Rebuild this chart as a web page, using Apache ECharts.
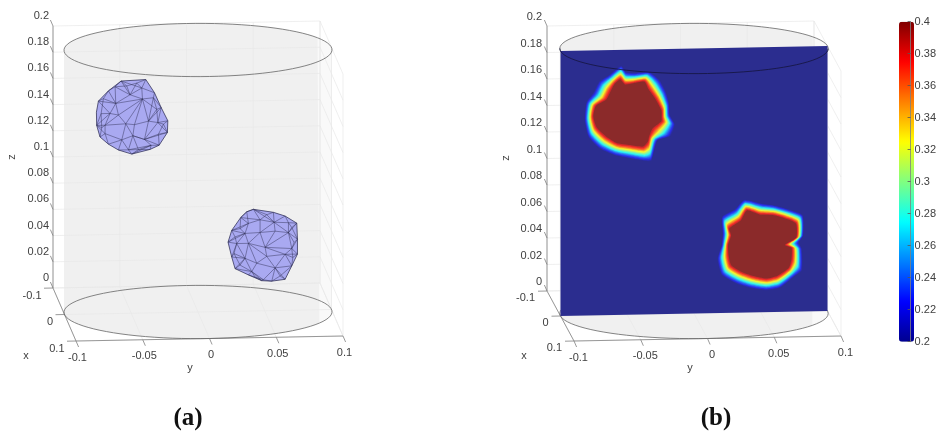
<!DOCTYPE html>
<html><head><meta charset="utf-8">
<style>html,body{margin:0;padding:0;background:#fff}#c{width:939px;height:432px}</style>
<script src="https://cdn.jsdelivr.net/npm/echarts@6/dist/echarts.min.js"></script>
</head><body><div id="c"></div>
<script>
// ---------- tick values ----------
const zTicks = [0,0.02,0.04,0.06,0.08,0.1,0.12,0.14,0.16,0.18,0.2];
const yTicks = [-0.1,-0.05,0,0.05,0.1];
const xTicks = [-0.1,0,0.1];
const colorTicks = [0.2,0.22,0.24,0.26,0.28,0.3,0.32,0.34,0.36,0.38,0.4];
const cylinderRadius = 0.1;
const planeCorners = [[-0.1,0],[0.1,0],[0.1,0.2],[-0.1,0.2]];

// ---------- panel (a): bubble surface meshes, [y, z] in 1e-3 units on the view plane ----------
const meshAVerts = [[-57.6,177.4],[-39.1,178.2],[-32.6,168],[-27.6,156.6],[-22.6,146.4],[-22.9,137.5],[-29.1,127.9],[-35.9,124.8],[-49.6,121.5],[-59.6,124.8],[-67.1,129.4],[-73.4,135],[-75.9,143.9],[-74.6,162.4],[-67.1,170.1],
 [-42.1,171.8],[-41.6,163.4],[-33.4,164.2],[-50.9,166.8],[-61.6,160.4],[-54.1,144.7],[-47.6,143.9],[-37.1,146.4],[-30.1,145.2],[-59.6,151.5],[-48.8,135.5],[-40.1,132.5],[-35.1,127.9],[-69.6,137.5],[-52.1,124.8],[-62.1,173.1],[-57.1,132.5],[-65.9,152.8],[-69.6,143.9],
 [-70.85,164.2],[-72.6,152.8],[-72.1,142.1],[-53.4,173.6],[-45.9,175.6],[-25.9,143.9],[-29.6,136.3],[-44.6,124.8],[-30.9,155.3],[-76.1,154]];
const meshAOutline = [0,1,2,3,4,5,6,7,8,9,10,11,12,43,13,14];
const meshAEdges = [[0,15],[1,15],[15,2],[15,16],[16,17],[17,2],[17,3],[16,18],[18,15],[18,0],[18,30],[30,0],[30,14],[30,19],[14,19],[13,19],[19,18],[19,16],[19,24],[24,16],[24,20],[20,16],[16,21],[21,20],[21,22],[22,16],[22,17],[22,3],[22,23],[23,3],[23,4],[23,5],[26,23],[22,26],[26,5],[26,6],[26,27],[27,7],[27,6],[26,25],[25,21],[25,20],[25,31],[31,20],[31,28],[28,33],[33,20],[33,24],[33,32],[32,24],[32,19],[32,13],[32,12],[33,12],[28,12],[28,11],[28,10],[31,10],[31,9],[31,29],[29,9],[29,8],[29,25],[25,26],[29,27],[8,27],
 [14,34],[34,13],[34,19],[34,35],[35,32],[35,12],[35,36],[36,33],[36,12],[36,11],[30,37],[37,0],[37,18],[37,38],[38,15],[38,1],[38,18],[23,39],[39,4],[39,5],[39,40],[40,5],[40,26],[40,6],[41,8],[41,7],[41,27],[41,25],[41,29],[42,3],[42,17],[42,22],[42,23],[42,16]];
const meshBVerts = [[41.5,77.6],[56.5,75],[65.25,72],[74,66.4],[74.5,54.2],[74.5,42.8],[70.25,33.9],[65.25,23.7],[55.25,22.5],[47.75,23],[37.75,27.6],[27.75,32.6],[25.25,41.5],[22.5,52.9],[25.25,61.8],[32,71.5],
 [57,67.4],[46.5,69.5],[37.75,66.9],[35.25,59.3],[46.5,59.8],[57.75,60.6],[67.75,59.3],[50.25,48.4],[70.25,47.1],[51.5,41.5],[65.25,42.8],[37.75,51.7],[29,51.7],[35.25,40.3],[44,36.4],[57.75,32.6],[49,23.7],[40.25,30.1],[67.75,66.9],
 [27.75,56.8],[31.5,63.1],[51.5,73.3],[70.25,63.1],[72,51.7],[71,40.3],[61.5,26.3],[42.75,25.8],[31.5,35.2],[27,44.1],[36.5,75.8]];
const meshBOutline = [0,1,2,3,4,5,6,7,8,9,10,11,12,13,14,15,45];
const meshBEdges = [[0,17],[0,16],[1,16],[2,16],[2,34],[3,34],[16,34],[34,22],[22,3],[22,4],[16,22],[16,21],[21,22],[21,20],[20,16],[20,17],[17,16],[17,18],[18,15],[15,17],[18,14],[18,19],[19,14],[19,13],[19,28],[28,13],[28,12],[19,20],[19,27],[27,20],[20,23],[23,21],[23,22],[23,24],[22,24],[24,4],[24,5],[24,26],[26,5],[26,6],[26,23],[23,25],[25,26],[25,31],[31,26],[31,6],[31,7],[31,8],[31,32],[32,8],[32,9],[32,33],[33,9],[33,10],[33,30],[30,25],[30,31],[30,29],[29,27],[29,28],[29,12],[29,11],[29,33],[33,11],[27,23],[27,25],[27,30],[28,27],
 [35,13],[35,14],[35,28],[35,19],[36,14],[36,15],[36,18],[36,19],[37,0],[37,1],[37,16],[37,17],[38,3],[38,34],[38,22],[38,4],[39,4],[39,22],[39,24],[40,5],[40,24],[40,26],[40,6],[41,7],[41,8],[41,31],[41,6],[42,9],[42,10],[42,32],[42,33],[43,11],[43,29],[43,33],[44,12],[44,28],[44,29],[44,43],[45,0],[45,15],[45,18]];

// ---------- panel (b): field contours of each bubble, [y, z] in 1e-3 units ----------
const bubble1High = [[-55.2,179.3],[-51.5,175.3],[-45.3,175.8],[-36.5,176.8],[-32.8,171],[-27.8,163.5],[-23.6,154.7],[-23.3,148.4],[-22.9,145.1],[-29.1,139.1],[-32.8,133.3],[-34.1,128.2],[-37.8,125],[-47.7,126.5],[-57.7,128.2],[-66.4,133.3],[-73.9,140.8],[-76.4,149.6],[-74.6,158.4],[-67.2,163.5],[-63.9,169.8],[-60.2,175.3]];
const bubble1Low = [[-54.7,186.4],[-51,181.8],[-44,181.1],[-34.1,181.8],[-27.3,176],[-22.4,167.2],[-19.6,158.4],[-18.9,149.6],[-15.9,143.3],[-19.9,135],[-28.3,131.5],[-32.3,118.2],[-36.5,117.4],[-47.7,119.4],[-59,121.9],[-69.7,127],[-78.1,135.8],[-80.9,147.6],[-79.6,160.2],[-73.9,167.2],[-69.7,175.3],[-62.7,180.3]];
const bubble2High = [[39.3,78.3],[49.3,75.1],[59.2,74.3],[67.9,71.8],[77.1,67.5],[77.4,56.2],[69.7,50.7],[74.2,48.1],[74.2,38.6],[71.7,32.3],[62.9,26],[54.2,24],[44.3,26],[34.3,29.8],[26.8,34.8],[24.8,42.3],[24.8,51.2],[26.8,58.7],[25.6,65],[34.3,70.8]];
const bubble2Low = [[38,83.9],[50.5,80.8],[60.5,79.3],[70.4,76.3],[80.6,71.8],[81.1,57.4],[77.1,51.7],[79.6,47.4],[79.6,32.3],[74.2,27.3],[64.2,19.7],[54.2,17.9],[43,19.7],[33.1,23],[21.9,29.8],[18.9,41.1],[21.4,51.2],[22.4,60],[21.9,71.3],[31.3,76.8]];
const contourLevels = [0.205,0.215,0.225,0.235,0.245,0.255,0.265,0.275,0.285,0.295,0.305,0.315,0.325,0.335,0.345,0.355,0.365,0.375,0.385,0.4];
const levelLow = 0.235, levelHigh = 0.37;

// ---------- colours ----------
const jet = ['#00008f','#0000ff','#0080ff','#00ffff','#80ff80','#ffff00','#ff8000','#ff0000','#800000'];
const jetWashed = ['#2b2d8f','#2b2dee','#2b80f5','#2af5f5','#95f595','#f7f72a','#f7802a','#f52a2a','#8b2a2a'];
const TEXT = '#404040', GRID = '#e8e8e8', AXIS = '#808080';

// ---------- view projections ----------
const viewA = {o:[53,288], dy:[267,-5], dx:[23,53], dz:[0,-262]};
const viewB = {o:[547,291], dy:[267,-5], dx:[27,50], dz:[0,-265]};
function proj(v,x,y,z){
  const a=(x+0.1)/0.2,b=(y+0.1)/0.2,c=z/0.2;
  return [v.o[0]+v.dx[0]*a+v.dy[0]*b+v.dz[0]*c, v.o[1]+v.dx[1]*a+v.dy[1]*b+v.dz[1]*c];
}
function shapes(lists,style){ // lists of point lists
  return {type:'custom',coordinateSystem:'cartesian2d',xAxisIndex:0,yAxisIndex:0,silent:true,animation:false,clip:false,
    data:lists.map((l,i)=>[i,0]),
    renderItem(p,api){
      const l=lists[api.value(0)].map(q=>api.coord(q));
      return {type:style.fill?'polygon':'polyline',shape:{points:l,smooth:style.smooth||0},
        style:{fill:style.fill||'none',stroke:style.stroke||'none',lineWidth:style.width||0,opacity:style.opacity==null?1:style.opacity}};
    }};
}
function texts(items){ // [x,y,text,align,rotated,font]
  return {type:'custom',coordinateSystem:'cartesian2d',xAxisIndex:0,yAxisIndex:0,silent:true,animation:false,clip:false,
    data:items.map((t,i)=>[i,0]),
    renderItem(p,api){
      const t=items[api.value(0)],c=api.coord([t[0],t[1]]);
      return {type:'text',x:c[0],y:c[1],rotation:t[4]?Math.PI/2:0,
        style:{text:t[2],textAlign:t[3],textVerticalAlign:'middle',fill:t[6]||TEXT,font:t[5]||'11px "Liberation Sans"'}};
    }};
}
function circle(v,z){
  const pts=[];
  for(let d=0;d<=360;d+=4){const r=d*Math.PI/180;pts.push(proj(v,cylinderRadius*Math.cos(r),cylinderRadius*Math.sin(r),z));}
  return pts;
}
function arcs(v){
  const top=circle(v,0.2);
  const L=top.reduce((a,p)=>p[0]<a[0]?p:a),R=top.reduce((a,p)=>p[0]>a[0]?p:a);
  const lineY=x=>L[1]+(R[1]-L[1])*(x-L[0])/(R[0]-L[0]);
  return {up:top.filter(p=>p[1]<=lineY(p[0])+0.01).sort((a,b)=>a[0]-b[0]),
          down:top.filter(p=>p[1]>=lineY(p[0])-0.01).sort((a,b)=>a[0]-b[0]),lineY};
}
function silhouette(v){
  const {up,lineY}=arcs(v),bot=circle(v,0),dz=-v.dz[1];
  const low=bot.filter(p=>p[1]>=lineY(p[0])+dz).sort((a,b)=>b[0]-a[0]);
  return up.concat(low);
}
function frame(v){
  const lines=[],ax=[];
  zTicks.forEach(z=>{lines.push([proj(v,-0.1,-0.1,z),proj(v,-0.1,0.1,z)]);lines.push([proj(v,-0.1,0.1,z),proj(v,0.1,0.1,z)]);});
  yTicks.forEach(y=>{lines.push([proj(v,-0.1,y,0),proj(v,-0.1,y,0.2)]);lines.push([proj(v,-0.1,y,0),proj(v,0.1,y,0)]);});
  xTicks.forEach(x=>{lines.push([proj(v,x,-0.1,0),proj(v,x,0.1,0)]);lines.push([proj(v,x,0.1,0),proj(v,x,0.1,0.2)]);});
  ax.push([proj(v,-0.1,-0.1,0),proj(v,-0.1,-0.1,0.2)]);
  ax.push([proj(v,-0.1,-0.1,0),proj(v,0.1,-0.1,0)]);
  ax.push([proj(v,0.1,-0.1,0),proj(v,0.1,0.1,0)]);
  zTicks.forEach(z=>{const p=proj(v,-0.1,-0.1,z);ax.push([p,[p[0]-2.6,p[1]-6]]);});
  yTicks.forEach(y=>{const p=proj(v,0.1,y,0);ax.push([p,[p[0]+2.6,p[1]+6]]);});
  xTicks.forEach(x=>{const p=proj(v,x,-0.1,0);ax.push([p,[p[0]-9,p[1]+0.2]]);});
  return [lines,ax];
}
function panelBack(v,wallRight){
  const sil=silhouette(v),[g,ax]=frame(v);
  return [shapes([sil],{fill:'#f9f9f9'}),shapes([sil.filter(p=>p[0]<=wallRight)],{fill:'#f0f0f0'}),
    shapes(g,{stroke:GRID,width:0.7}),shapes(ax,{stroke:AXIS,width:0.8})];
}
function mesh(verts,outline,edges,v){
  const P=i=>proj(v,0,verts[i][0]/1000,verts[i][1]/1000);
  return [shapes([outline.map(P)],{fill:'#a9a9f1'}),
    shapes(edges.map(e=>[P(e[0]),P(e[1])]),{stroke:'#2a2a4f',width:0.6,opacity:0.75}),
    shapes([outline.map(P).concat([P(outline[0])])],{stroke:'#2f2f55',width:0.9,opacity:0.85})];
}
function contours(hi,lo,v){
  return {type:'custom',coordinateSystem:'cartesian2d',xAxisIndex:0,yAxisIndex:0,silent:true,animation:false,clip:false,
    data:contourLevels.map(l=>[l,0]),
    renderItem(p,api){
      const t=(api.value(0)-levelLow)/(levelHigh-levelLow);
      const pts=hi.map((h,i)=>{const l=lo[i];
        return api.coord(proj(v,0,(l[0]+(h[0]-l[0])*t)/1000,(l[1]+(h[1]-l[1])*t)/1000));});
      return {type:'polygon',shape:{points:pts,smooth:0.2},style:{fill:api.visual('color')}};
    }};
}
function labels(v,o){
  const fmt=n=>String(n);
  return zTicks.map(z=>{const p=proj(v,-0.1,-0.1,z);return [p[0]+o.z[0],p[1]+o.z[1],fmt(z),'right'];})
   .concat(yTicks.map(y=>{const p=proj(v,0.1,y,0);return [p[0]+o.y[0],p[1]+o.y[1],fmt(y),'center'];}))
   .concat(xTicks.map(x=>{const p=proj(v,x,-0.1,0);return [p[0]+o.x[0],p[1]+o.x[1],fmt(x),'right'];}));
}

const series=[];
// panel a
series.push(...panelBack(viewA,320));
series.push(shapes([circle(viewA,0)],{stroke:'#666',width:0.8}));
series.push(...mesh(meshAVerts,meshAOutline,meshAEdges,viewA));
series.push(...mesh(meshBVerts,meshBOutline,meshBEdges,viewA));
series.push(shapes([circle(viewA,0.2)],{stroke:'#666',width:0.8}));
series.push(texts(labels(viewA,{z:[-4,-10],y:[1.5,16.5],x:[-11.5,7.5]}).concat([
  [12,157,'z','center',true],[190,368,'y','center'],[26,356,'x','center'],
  [188,419,'(a)','center',false,'bold 25px "Liberation Serif"','#111']])));
// panel b
series.push(...panelBack(viewB,814));
series.push(shapes([circle(viewB,0)],{stroke:'#666',width:0.8}));
series.push(shapes([circle(viewB,0.2)],{stroke:'#666',width:0.8}));
series.push(shapes([planeCorners.map(c=>proj(viewB,0,c[0],c[1]))],{fill:jetWashed[0]}));
const planeSeriesStart=series.length;
series.push(contours(bubble1High,bubble1Low,viewB));
series.push(contours(bubble2High,bubble2Low,viewB));
series.push(shapes([arcs(viewB).down],{stroke:'#14143c',width:0.8}));
series.push(texts(labels(viewB,{z:[-5,-9],y:[4.5,16.5],x:[-12,7]}).concat([
  [506,158,'z','center',true],[690,368,'y','center'],[524,356,'x','center'],
  [716,419,'(b)','center',false,'bold 25px "Liberation Serif"','#111']])));
// colour bar axis carrier
const barSeries=series.length;
series.push({type:'line',xAxisIndex:1,yAxisIndex:1,data:[],silent:true});

const option={
  backgroundColor:'#fff',animation:false,
  grid:[{left:0,top:0,width:939,height:432,show:false},
        {left:899,top:21.7,width:15,height:320,show:false}],
  xAxis:[{type:'value',gridIndex:0,min:0,max:939,show:false},
         {type:'value',gridIndex:1,min:0,max:1,show:false}],
  yAxis:[{type:'value',gridIndex:0,min:0,max:432,inverse:true,show:false},
         {type:'value',gridIndex:1,position:'right',min:0.2,max:0.4,interval:0.02,z:10,
          axisLine:{show:true,onZero:false,lineStyle:{color:AXIS,width:0.8}},
          axisTick:{show:true,inside:true,length:3,lineStyle:{color:'#555',width:0.8}},
          splitLine:{show:false},
          axisLabel:{show:true,margin:4,color:TEXT,fontSize:11,fontFamily:'Liberation Sans',
            formatter:val=>String(colorTicks.reduce((a,b)=>Math.abs(b-val)<Math.abs(a-val)?b:a))}}],
  visualMap:[
    {type:'continuous',show:true,min:0.2,max:0.4,left:899,top:21.7,padding:0,itemWidth:15,itemHeight:320,
     calculable:false,realtime:false,hoverLink:false,text:null,showLabel:false,seriesIndex:[barSeries],inRange:{color:jet}},
    {type:'continuous',show:false,min:0.2,max:0.4,dimension:0,seriesIndex:[planeSeriesStart,planeSeriesStart+1],inRange:{color:jetWashed}}
  ],
  series
};
echarts.init(document.getElementById('c'),null,{renderer:'canvas'}).setOption(option);
</script></body></html>
